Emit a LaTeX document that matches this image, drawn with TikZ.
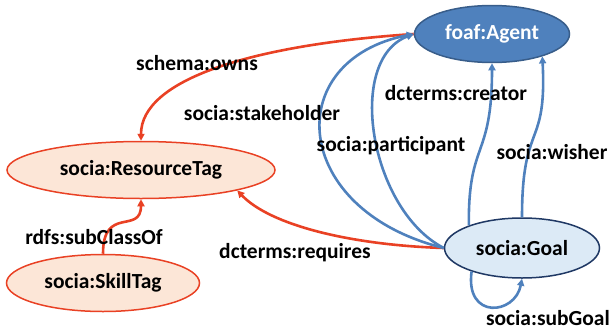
\documentclass[tikz,border=0pt]{standalone}
\usepackage{fontspec}
\setmainfont{Carlito}
\usetikzlibrary{shapes.geometric,arrows.meta}
\definecolor{myblue}{RGB}{79,129,189}
\definecolor{mydarkblue}{RGB}{56,93,138}
\definecolor{mynavy}{RGB}{31,56,100}
\definecolor{mylightblue}{RGB}{220,234,246}
\definecolor{myred}{RGB}{233,65,36}
\definecolor{mypeach}{RGB}{252,230,215}
\newcommand{\heightclass}{57pt}
\newcommand{\labelfont}{\bfseries\fontsize{21.5}{24}\selectfont}
\tikzset{
    common/.style={ellipse, draw, line width=1.5pt, minimum height=\heightclass, inner sep=0pt, font=\labelfont},
    tag/.style={common, fill=mypeach, draw=myred},
    agent/.style={common, fill=myblue, draw=mydarkblue, text=white},
    goal/.style={common, fill=mylightblue, draw=mynavy},
    prop/.style={font=\labelfont, inner sep=1pt},
    link/.style={line width=2.6pt, -{Triangle[length=7pt,width=7pt]}},
    redlink/.style={link, draw=myred},
    bluelink/.style={link, draw=myblue}
}
\begin{document}
\begin{tikzpicture}[x=1pt, y=-1pt]
            \useasboundingbox (0,0) rectangle (612,332);

            \node[agent, minimum width=155pt] (agent) at (492,34) {foaf:Agent};
            \node[tag, minimum width=268pt] (resource) at (141,170) {socia:ResourceTag};
            \node[tag, minimum width=193pt] (skill) at (103,283) {socia:SkillTag};
            \node[goal, minimum width=155pt, minimum height=60pt] (goal) at (522,248) {socia:Goal};

            \draw[redlink] (agent.west) .. controls (250,45) and (141,80) .. (resource.north);
            \draw[redlink] (goal.west) .. controls (350,245) and (270,225) .. (resource.-12);
            \draw[redlink] (skill.north) .. controls (103,205) and (141,235) .. (resource.south);

            \draw[bluelink] (goal.west) .. controls (290,210) and (280,60) .. (agent.west);
            \draw[bluelink] (goal.west) .. controls (370,210) and (345,60) .. (agent.west);
            \draw[bluelink] (goal.157) .. controls (468,140) and (492,160) .. (agent.south);
            \draw[bluelink] (goal.north) .. controls (522,120) and (547,150) .. (agent.336);
            \draw[bluelink] (goal.205) .. controls (465,320) and (515,315) .. (goal.south);

            \node[prop] (owns) at (197,63) {schema:owns};
            \node[prop] (stakeholder) at (262,113) {socia:stakeholder};
            \node[prop] (participant) at (391,146) {socia:participant};
            \node[prop] (creator) at (456,93) {dcterms:creator};
            \node[prop] (wisher) at (552,152) {socia:wisher};
            \node[prop] (subclass) at (94,237) {rdfs:subClassOf};
            \node[prop] (requires) at (295,253) {dcterms:requires};
            \node[prop, anchor=east] (subgoal) at (611,318) {socia:subGoal};
\end{tikzpicture}
\end{document}
